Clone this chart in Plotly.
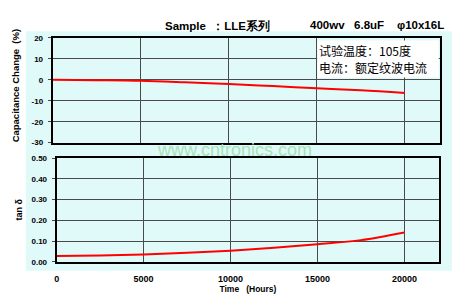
import plotly.graph_objects as go

hours = [0, 2500, 5000, 7500, 10000, 12500, 15000, 17500, 20000]
cap_change = [0, -0.2, -0.5, -1.2, -2.0, -3.0, -4.0, -5.0, -6.3]
tan_delta = [0.028, 0.031, 0.036, 0.044, 0.054, 0.068, 0.085, 0.105, 0.142]

x_ticks = [0, 5000, 10000, 15000, 20000]
x_tick_labels = ["0", "5000", "10000", "15000", "20000"]
cap_ticks = [20, 10, 0, -10, -20, -30]
cap_tick_labels = ["20", "10", "0", "-10", "-20", "-30"]
tan_ticks = [0.0, 0.1, 0.2, 0.3, 0.4, 0.5]
tan_tick_labels = ["0.00", "0.10", "0.20", "0.30", "0.40", "0.50"]

W, H = 470, 296
def px(x): return x / W
def py(y): return 1 - y / H

BG = "#E0FAFA"
fig = go.Figure()
fig.add_trace(go.Scatter(x=hours, y=cap_change, mode="lines", line=dict(color="red", width=2, shape="spline"),
                         xaxis="x", yaxis="y", showlegend=False))
fig.add_trace(go.Scatter(x=hours, y=tan_delta, mode="lines", line=dict(color="red", width=2, shape="spline"),
                         xaxis="x2", yaxis="y2", showlegend=False))

FAM = "Arial, Liberation Sans"
ytickfont = dict(family=FAM, size=8, color="black", weight="bold")
common = dict(showline=True, mirror=True, linecolor="black", linewidth=2, showgrid=True,
              gridcolor="#4a4a4a", gridwidth=1, zeroline=False)

fig.update_layout(
    width=W, height=H, margin=dict(l=0, r=0, t=0, b=0),
    paper_bgcolor="white", plot_bgcolor=BG,
    xaxis=dict(domain=[px(50), px(440)], range=[0, 22000], tickvals=x_ticks, showticklabels=False,
               anchor="y", ticks="", **common),
    yaxis=dict(domain=[py(143), py(35)], range=[-30, 20], tickvals=cap_ticks, ticktext=cap_tick_labels,
               anchor="x", ticks="outside", ticklen=3, tickcolor="#4a4a4a", tickfont=ytickfont,
               ticklabelstandoff=3, **common),
    xaxis2=dict(domain=[px(54), px(439)], range=[0, 22000], tickvals=x_ticks, ticktext=x_tick_labels,
                anchor="y2", ticks="", ticklabelstandoff=7,
                tickfont=dict(family=FAM, size=9, color="black", weight="bold"),
                title=dict(text="<b>Time   (Hours)</b>", standoff=1,
                           font=dict(family=FAM, size=8.5, color="black")),
                **common),
    yaxis2=dict(domain=[py(266), py(159)], range=[0, 0.5], tickvals=tan_ticks, ticktext=tan_tick_labels,
                anchor="x2", ticks="outside", ticklen=3, tickcolor="#4a4a4a", tickfont=ytickfont,
                ticklabelstandoff=3, **common),
)

fig.add_shape(type="rect", xref="paper", yref="paper", x0=px(23), x1=px(452), y0=py(275), y1=py(28),
              fillcolor=BG, line=dict(width=0), layer="below")

bold = dict(family=FAM, color="black")
def ann(text, x, y, size, angle=0, **kw):
    fig.add_annotation(text=text, xref="paper", yref="paper", x=px(x), y=py(y), xanchor="center",
                       showarrow=False, textangle=angle, font=dict(size=size, **bold), **kw)

ann("<b>Sample  ：LLE系列</b>", 216, 22, 11.5, yanchor="middle")
ann("<b>400wv   6.8uF    φ10x16L</b>", 376, 22, 11.5, yanchor="middle")
ann("<b>Capacitance Change  (%)</b>", 13, 84, 9.5, angle=-90, yanchor="middle")
ann("<b>tan δ</b>", 16, 212, 9, angle=-90, yanchor="middle")

fig.add_annotation(text="试验温度：105度", xref="paper", yref="paper",
                   x=px(316), y=py(37), xanchor="left", yanchor="top", align="left",
                   showarrow=False, bgcolor="white", borderpad=1, width=118,
                   font=dict(family="Noto Sans CJK SC", size=12, color="black"))
fig.add_annotation(text="电流：额定纹波电流", xref="paper", yref="paper",
                   x=px(316), y=py(55), xanchor="left", yanchor="top", align="left",
                   showarrow=False, bgcolor="white", borderpad=1, width=118,
                   font=dict(family="Noto Sans CJK SC", size=12, color="black"))
fig.add_annotation(text="www.cntronics.com", xref="paper", yref="paper", x=px(233), y=py(151),
                   xanchor="center", yanchor="middle",
                   showarrow=False, font=dict(family=FAM, size=18, color="#A6E4B6"))

fig.write_html("out.html")
